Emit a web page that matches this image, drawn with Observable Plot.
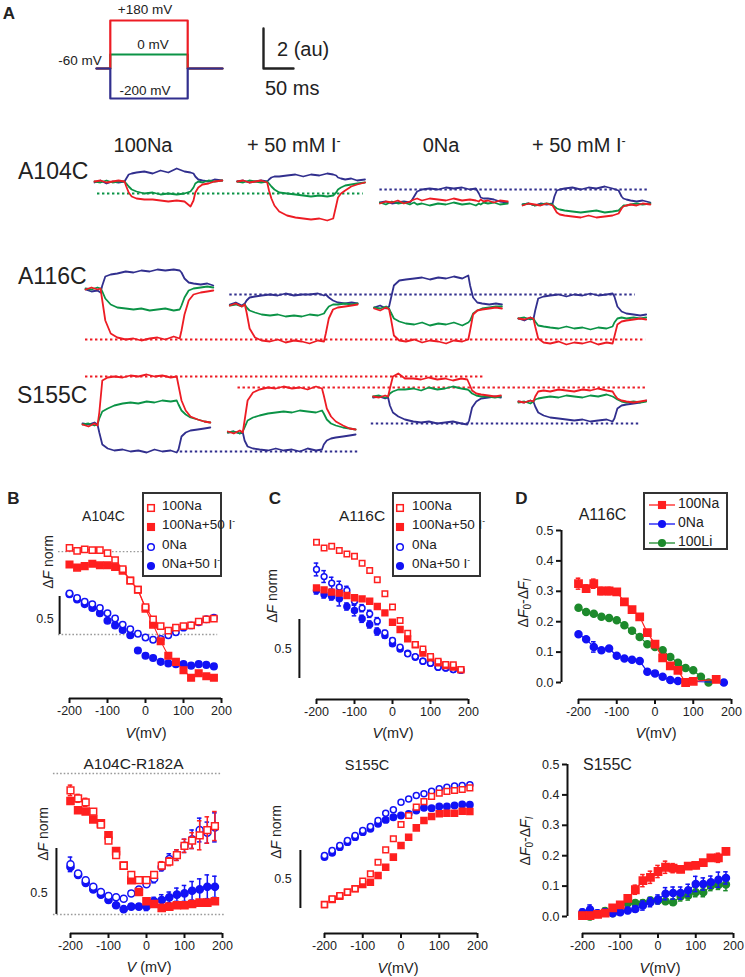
<!DOCTYPE html>
<html>
<head>
<meta charset="utf-8">
<script src="https://cdn.jsdelivr.net/npm/d3@7"></script>
<script src="https://cdn.jsdelivr.net/npm/@observablehq/plot@0.6"></script>
<style>
html,body{margin:0;padding:0;background:#fff;}
#fig{position:relative;width:745px;height:977px;overflow:hidden;background:#fff;font-family:'Liberation Sans',Arial,Helvetica,sans-serif;color:#222;}
#fig > svg{position:absolute;left:0;top:0;}
.t{position:absolute;white-space:nowrap;line-height:1;}
.box{position:absolute;box-sizing:border-box;border:2px solid #333;background:#fff;}
.sm{font-size:0.62em;position:relative;top:-0.55em;}
sub{font-size:0.72em;vertical-align:-0.25em;line-height:0;}
</style>
</head>
<body>
<div id="fig"></div>
<script>
// ---------------- DATA ----------------
// Panel A: voltage protocol (ms, mV)
const protoTime = [0, 23, 23, 152, 152, 210];
const protoRed = [-60, -60, 180, 180, -60, -60];
const protoGreen = [-60, -60, 0, 0, -60, -60];
const protoBlue = [-60, -60, -200, -200, -60, -60];
const scaleBarAu = 2, scaleBarMs = 50;

// Panel A: fluorescence traces (au) sampled at these times (ms)
const tA = [0,10,20,30,40,50,53,57,62,70,83,97,110,123,137,150,160,165,168,173,180,190,200,213];
const tB = [0,10,20,25,28,33,42,53,67,80,93,107,120,133,147,157,160,165,172,180,192,203,213];
const columns = ["100Na", "+ 50 mM I-", "0Na", "+ 50 mM I-"];

const a104_Na_blue   = [-0.05,0.05,-0.1,0,-0.05,0,0.15,0.35,0.4,0.45,0.5,0.4,0.55,0.45,0.65,0.5,0.45,0.4,0.25,0.1,0.05,0,0.1,0.05];
const a104_Na_green  = [0,-0.05,0.05,-0.05,0,0,-0.1,-0.25,-0.4,-0.5,-0.6,-0.55,-0.65,-0.6,-0.65,-0.6,-0.5,-0.3,-0.1,0,-0.05,0.05,0,0.05];
const a104_Na_red    = [0,0.05,-0.05,0,0.05,0,-0.25,-0.55,-0.75,-0.85,-0.9,-0.9,-0.95,-1.0,-0.95,-1.0,-1.25,-0.95,-0.55,-0.3,-0.15,-0.1,0,0.05];
const a104_NaI_blue  = [0,0.05,-0.05,0,0.05,0,0.1,0.2,0.25,0.25,0.3,0.35,0.25,0.35,0.3,0.4,0.35,0.3,0.2,0.15,0.1,0.15,0.05,0.1];
const a104_NaI_green = [0,-0.05,0.05,0,-0.05,0,-0.1,-0.25,-0.4,-0.55,-0.6,-0.65,-0.7,-0.75,-0.7,-0.75,-0.7,-0.55,-0.4,-0.3,-0.2,-0.15,-0.1,-0.05];
const a104_NaI_red   = [0,0.05,-0.05,0,0.05,-0.05,-0.45,-0.85,-1.2,-1.5,-1.7,-1.8,-1.85,-1.9,-1.85,-1.95,-1.85,-1.2,-0.8,-0.6,-0.45,-0.25,-0.15,-0.05];
const a104_0Na_blue  = [-1.05,-1.0,-1.1,-1.05,-1.0,-1.05,-0.95,-0.75,-0.5,-0.4,-0.35,-0.4,-0.3,-0.35,-0.3,-0.4,-0.35,-0.6,-0.8,-0.85,-0.85,-0.9,-1.0,-1.05];
const a104_0Na_green = [-1.05,-1.15,-1.0,-1.1,-1.05,-1.15,-1.1,-1.05,-1.15,-1.1,-1.2,-1.1,-1.15,-1.05,-1.15,-1.1,-1.2,-1.1,-1.15,-1.05,-1.1,-1.05,-1.15,-1.1];
const a104_0Na_red   = [-1.1,-1.0,-1.05,-0.95,-1.1,-1.0,-0.95,-0.9,-0.85,-0.95,-0.85,-0.9,-0.95,-0.85,-0.95,-0.9,-0.95,-1.0,-0.9,-1.0,-0.95,-1.05,-0.95,-1.0];
const a104_0NaI_blue = [-1.15,-1.1,-1.2,-1.1,-1.15,-1.1,-0.75,-0.45,-0.4,-0.35,-0.3,-0.4,-0.3,-0.35,-0.25,-0.35,-0.45,-0.75,-0.85,-0.9,-0.95,-1.0,-0.95,-1.05];
const a104_0NaI_green= [-1.15,-1.1,-1.2,-1.15,-1.1,-1.15,-1.25,-1.35,-1.4,-1.45,-1.5,-1.55,-1.5,-1.45,-1.55,-1.5,-1.45,-1.3,-1.2,-1.2,-1.15,-1.1,-1.15,-1.1];
const a104_0NaI_red  = [-1.2,-1.1,-1.15,-1.2,-1.1,-1.2,-1.35,-1.55,-1.65,-1.7,-1.75,-1.8,-1.7,-1.8,-1.75,-1.7,-1.6,-1.35,-1.25,-1.2,-1.15,-1.2,-1.1,-1.15];

const a116_Na_blue   = [-0.05,-0.15,-0.1,-0.2,0.15,0.6,0.7,0.75,0.85,0.8,0.9,0.85,0.95,0.9,0.95,0.9,0.8,0.5,0.3,0.25,0.2,0.25,0.15];
const a116_Na_green  = [0,-0.05,0.05,0,-0.15,-0.5,-0.8,-0.95,-1.0,-1.05,-1.0,-1.1,-1.05,-1.0,-1.1,-1.05,-0.85,-0.45,-0.1,0,0.05,0.1,0.05];
const a116_Na_red    = [-0.05,0.05,-0.05,0,-0.6,-1.6,-2.25,-2.45,-2.55,-2.5,-2.6,-2.5,-2.45,-2.55,-2.4,-2.5,-2.1,-1.3,-0.6,-0.3,-0.2,-0.15,-0.1];
const a116_NaI_blue  = [-0.8,-0.7,-0.85,-0.75,-0.6,-0.45,-0.4,-0.35,-0.3,-0.35,-0.25,-0.35,-0.3,-0.3,-0.25,-0.35,-0.3,-0.45,-0.6,-0.7,-0.75,-0.7,-0.75];
const a116_NaI_green = [-0.85,-0.8,-0.9,-0.8,-0.95,-1.1,-1.2,-1.3,-1.35,-1.3,-1.4,-1.35,-1.4,-1.3,-1.35,-1.25,-1.1,-0.9,-0.8,-0.8,-0.75,-0.8,-0.75];
const a116_NaI_red   = [-0.85,-0.75,-0.9,-0.8,-1.2,-2.0,-2.45,-2.6,-2.65,-2.55,-2.7,-2.6,-2.65,-2.75,-2.6,-2.65,-2.25,-1.5,-1.05,-0.95,-0.9,-0.85,-0.8];
const a116_0Na_blue  = [-0.95,-0.85,-1.0,-0.9,-0.5,0.15,0.4,0.45,0.5,0.55,0.45,0.55,0.5,0.6,0.5,0.65,0.15,-0.45,-0.7,-0.75,-0.8,-0.75,-0.8];
const a116_0Na_green = [-0.95,-1.0,-0.9,-1.0,-1.2,-1.5,-1.65,-1.75,-1.8,-1.7,-1.85,-1.75,-1.8,-1.7,-1.85,-1.7,-1.6,-1.25,-1.1,-1.0,-0.95,-0.9,-0.9];
const a116_0Na_red   = [-1.0,-1.1,-0.95,-1.05,-1.5,-2.35,-2.6,-2.65,-2.55,-2.7,-2.6,-2.65,-2.75,-2.6,-2.65,-2.55,-2.1,-1.3,-1.1,-1.05,-1.0,-0.95,-1.0];
const a116_0NaI_blue = [-1.5,-1.6,-1.45,-1.55,-1.1,-0.5,-0.4,-0.35,-0.3,-0.4,-0.3,-0.35,-0.25,-0.35,-0.3,-0.25,-0.4,-0.9,-1.15,-1.25,-1.3,-1.35,-1.3];
const a116_0NaI_green= [-1.5,-1.45,-1.55,-1.5,-1.65,-1.85,-1.9,-1.95,-2.0,-1.9,-2.0,-1.95,-2.05,-1.95,-2.0,-1.9,-1.7,-1.5,-1.45,-1.5,-1.45,-1.5,-1.45];
const a116_0NaI_red  = [-1.5,-1.55,-1.45,-1.5,-1.9,-2.5,-2.7,-2.75,-2.65,-2.8,-2.7,-2.75,-2.65,-2.8,-2.7,-2.75,-2.4,-1.8,-1.65,-1.6,-1.55,-1.5,-1.55];

const s155_Na_blue   = [0.05,0,0.1,0,-0.4,-1.0,-1.2,-1.3,-1.25,-1.35,-1.3,-1.4,-1.25,-1.35,-1.3,-1.4,-1.25,-0.6,-0.4,-0.3,-0.25,-0.2,-0.15];
const s155_Na_green  = [0,0.05,-0.05,0,0.3,0.65,0.8,0.95,1.05,1.1,1.05,1.15,1.1,1.2,1.15,1.2,1.0,0.7,0.5,0.35,0.25,0.15,0.1];
const s155_Na_red    = [0,-0.1,0.05,-0.05,0.6,2.2,2.35,2.4,2.35,2.45,2.4,2.5,2.4,2.45,2.35,2.4,1.95,1.2,0.7,0.4,0.25,0.15,0.1];
const s155_NaI_blue  = [-0.4,-0.35,-0.45,-0.4,-0.8,-1.1,-1.2,-1.25,-1.3,-1.2,-1.3,-1.25,-1.35,-1.2,-1.3,-1.25,-1.0,-0.8,-0.7,-0.65,-0.6,-0.55,-0.5];
const s155_NaI_green = [-0.4,-0.35,-0.45,-0.35,-0.15,0.2,0.35,0.45,0.55,0.6,0.65,0.6,0.7,0.65,0.6,0.7,0.55,0.25,0.05,-0.05,-0.15,-0.2,-0.25];
const s155_NaI_red   = [-0.35,-0.45,-0.3,-0.4,0.2,1.2,1.6,1.75,1.85,1.8,1.9,1.8,1.85,1.75,1.9,1.8,1.45,0.8,0.4,0.15,-0.05,-0.2,-0.25];
const s155_0Na_blue  = [1.35,1.4,1.3,1.35,0.95,0.6,0.4,0.25,0.15,0.1,0.15,0.05,0.1,0.15,0.05,0,0.2,0.85,1.15,1.3,1.35,1.4,1.35];
const s155_0Na_green = [1.4,1.45,1.35,1.4,1.55,1.65,1.75,1.75,1.8,1.7,1.85,1.75,1.8,1.9,1.8,1.75,1.7,1.55,1.45,1.4,1.4,1.35,1.4];
const s155_0Na_red   = [1.4,1.35,1.45,1.4,1.8,2.4,2.55,2.3,2.3,2.25,2.35,2.25,2.3,2.2,2.3,2.25,2.05,1.7,1.55,1.5,1.45,1.4,1.45];
const s155_0NaI_blue = [1.15,1.1,1.2,1.15,0.9,0.6,0.45,0.35,0.3,0.25,0.2,0.25,0.15,0.2,0.25,0.15,0.3,0.8,0.95,1.0,1.05,1.1,1.2];
const s155_0NaI_green= [1.1,1.15,1.05,1.15,1.25,1.3,1.35,1.4,1.35,1.45,1.4,1.35,1.45,1.4,1.5,1.4,1.35,1.25,1.15,1.1,1.15,1.1,1.15];
const s155_0NaI_red  = [1.15,1.1,1.2,1.15,1.4,1.65,1.7,1.65,1.75,1.7,1.65,1.75,1.7,1.8,1.7,1.65,1.5,1.3,1.2,1.15,1.1,1.15,1.2];

// reference (dotted) levels: level in au, from column c1 time t1 to column c2 time t2
const a104_dots = [{color:"green", level:-0.6, c1:0, t1:5, c2:1, t2:210}, {color:"blue", level:-0.4, c1:2, t1:0, c2:3, t2:210}];
const a116_dots = [{color:"red", level:-2.55, c1:0, t1:0, c2:3, t2:212}, {color:"blue", level:-0.3, c1:1, t1:0, c2:3, t2:195}];
const s155_dots = [{color:"red", level:2.4, c1:0, t1:5, c2:2, t2:183}, {color:"red", level:1.85, c1:1, t1:17, c2:3, t2:212},
                   {color:"blue", level:-1.35, c1:0, t1:163, c2:1, t2:217}, {color:"blue", level:0.05, c1:2, t1:-3, c2:3, t2:203}];

// Panels B-D: voltage (mV)
const V = [-200,-180,-160,-140,-120,-100,-80,-60,-40,-20,0,20,40,60,80,100,120,140,160,180];
const xTicks = [-200,-100,0,100,200];
const dYTicks = [0,0.1,0.2,0.3,0.4,0.5];

// B top: A104C (ΔF norm)
const bA104_Na   = [1.14,1.10,1.12,1.11,1.11,1.07,0.98,0.86,0.71,0.59,0.36,0.20,0.11,0.05,0.09,0.11,0.12,0.17,0.20,0.21];
const bA104_NaI  = [0.92,0.88,0.90,0.93,0.91,0.91,0.89,0.84,0.71,0.59,0.34,0.13,-0.09,-0.28,-0.36,-0.47,-0.57,-0.51,-0.55,-0.57];
const bA104_0Na  = [0.54,0.48,0.43,0.40,0.35,0.28,0.21,0.13,0.07,0.01,-0.04,-0.07,-0.06,-0.01,0.03,0.09,0.12,0.16,0.20,0.22];
const bA104_0NaI = [0.53,0.46,0.40,0.35,0.28,0.18,0.12,0.06,-0.01,-0.21,-0.28,-0.31,-0.36,-0.38,-0.39,-0.39,-0.41,-0.39,-0.40,-0.42];
const bA104_refLevels = [0, 1.09];

// B bottom: A104C-R182A
const bR182_Na   = [0.94,0.88,0.85,0.78,0.68,0.56,0.45,0.37,0.30,0.26,0.26,0.30,0.37,0.40,0.45,0.52,0.56,0.60,0.64,0.67];
const bR182_NaI  = [0.86,0.79,0.78,0.72,0.69,0.60,0.48,0.37,0.26,0.17,0.10,0.08,0.05,0.06,0.07,0.07,0.08,0.09,0.09,0.10];
const bR182_0Na  = [0.38,0.31,0.26,0.21,0.17,0.14,0.13,0.12,0.16,0.19,0.23,0.27,0.36,0.42,0.45,0.52,0.57,0.64,0.62,0.66];
const bR182_0NaI = [0.36,0.30,0.24,0.19,0.15,0.11,0.07,0.04,0.06,0.06,0.06,0.10,0.11,0.13,0.15,0.16,0.18,0.19,0.21,0.21];
const bR182_Na_err   = [0.04,0.03,0.03,0.02,0.02,0.02,0.02,0.02,0.02,0.02,0.02,0.02,0.03,0.03,0.04,0.05,0.06,0.11,0.10,0.11];
const bR182_NaI_err  = [0.02,0.02,0.02,0.02,0.02,0.02,0.02,0.02,0.02,0.02,0.02,0.02,0.02,0.02,0.02,0.02,0.02,0.02,0.02,0.02];
const bR182_0Na_err  = [0.055,0.02,0.02,0.02,0.02,0.02,0.02,0.02,0.02,0.02,0.02,0.03,0.03,0.04,0.04,0.05,0.07,0.09,0.08,0.11];
const bR182_0NaI_err = [0.02,0.02,0.02,0.02,0.02,0.02,0.02,0.02,0.02,0.02,0.03,0.03,0.04,0.04,0.05,0.06,0.07,0.08,0.09,0.08];
const bR182_refLevels = [0, 1.068];

// C top: A116C
const cA116_Na   = [1.155,1.105,1.12,1.085,1.055,1.035,0.977,0.915,0.836,0.718,0.605,0.492,0.384,0.288,0.251,0.186,0.147,0.119,0.116,0.076];
const cA116_NaI  = [0.768,0.751,0.732,0.723,0.703,0.684,0.675,0.655,0.610,0.556,0.477,0.415,0.336,0.285,0.215,0.175,0.133,0.110,0.096,0.073];
const cA116_0Na  = [0.924,0.864,0.808,0.774,0.746,0.655,0.596,0.548,0.486,0.387,0.322,0.266,0.209,0.186,0.147,0.130,0.096,0.090,0.076,0.070];
const cA116_0NaI = [0.746,0.712,0.695,0.675,0.610,0.576,0.506,0.458,0.398,0.364,0.294,0.251,0.215,0.181,0.147,0.130,0.096,0.090,0.076,0.070];
const cA116_0Na_err  = [0.054,0.05,0.05,0.05,0.035,0.03,0.03,0.03,0.03,0.02,0.02,0.015,0.015,0.015,0.01,0.01,0.01,0.01,0.01,0.01];
const cA116_0NaI_err = [0.03,0.03,0.03,0.06,0.03,0.045,0.03,0.03,0.03,0.02,0.02,0.015,0.015,0.01,0.01,0.01,0.01,0.01,0.01,0.01];

// C bottom: S155C
const cS155_Na   = [0.034,0.083,0.112,0.141,0.170,0.236,0.299,0.399,0.506,0.601,0.724,0.802,0.874,0.922,0.966,0.994,1.009,1.017,1.026,1.04];
const cS155_NaI  = [0.034,0.078,0.106,0.141,0.170,0.207,0.227,0.284,0.356,0.443,0.543,0.615,0.695,0.759,0.793,0.816,0.822,0.822,0.839,0.836];
const cS155_0Na  = [0.457,0.500,0.543,0.586,0.629,0.672,0.707,0.759,0.822,0.851,0.917,0.945,0.974,0.989,1.011,1.032,1.046,1.055,1.06,1.066];
const cS155_0NaI = [0.443,0.48,0.529,0.572,0.615,0.658,0.687,0.730,0.764,0.787,0.802,0.816,0.845,0.868,0.865,0.879,0.879,0.888,0.897,0.894];

// D top: A116C (ΔF0-ΔFI)
const dA116_Na_V   = [-200,-180,-160,-140,-120,-100,-80,-60,-40,-20,0,20,40,60,80,100,160];
const dA116_Na     = [0.325,0.309,0.325,0.301,0.301,0.298,0.265,0.24,0.216,0.164,0.126,0.081,0.055,0.04,0.0,0.004,0.01];
const dA116_Na_err = [0.018,0.012,0.015,0.012,0.012,0.01,0.008,0.008,0.008,0.008,0.006,0.006,0.006,0.006,0.006,0.006,0.006];
const dA116_0Na_V  = [-200,-180,-160,-140,-120,-100,-80,-60,-40,-20,0,20,40,60,180];
const dA116_0Na    = [0.159,0.142,0.117,0.106,0.112,0.088,0.079,0.075,0.071,0.035,0.03,0.019,0.008,0.005,0.0];
const dA116_0Na_err= [0.006,0.006,0.017,0.008,0.006,0.005,0.005,0.005,0.005,0.005,0.004,0.004,0.004,0.004,0.004];
const dA116_Li_V   = [-200,-180,-160,-140,-120,-100,-80,-60,-40,-20,0,20,40,60,80,100,120,140];
const dA116_Li     = [0.246,0.232,0.226,0.216,0.212,0.205,0.188,0.17,0.15,0.126,0.117,0.106,0.084,0.065,0.048,0.04,0.019,0.0];

// D bottom: S155C
const dS155_Na     = [0.003,0.003,0.007,0.011,0.028,0.038,0.06,0.088,0.118,0.129,0.148,0.162,0.159,0.155,0.166,0.168,0.177,0.193,0.193,0.214];
const dS155_0Na    = [0.014,0.023,0.011,0.014,0.011,0.014,0.02,0.025,0.036,0.047,0.056,0.075,0.077,0.077,0.086,0.107,0.107,0.113,0.121,0.127];
const dS155_Li     = [0.003,0,0.009,0.018,0.011,0.031,0.044,0.044,0.044,0.053,0.053,0.05,0.047,0.066,0.069,0.08,0.08,0.1,0.104,0.105];
const dS155_Na_err = [0.01,0.01,0.01,0.01,0.01,0.01,0.01,0.015,0.02,0.02,0.02,0.02,0.015,0.01,0.01,0.01,0.01,0.01,0.015,0.01];
const dS155_0Na_err= [0.01,0.015,0.01,0.01,0.01,0.01,0.01,0.01,0.015,0.015,0.015,0.02,0.02,0.02,0.02,0.025,0.02,0.02,0.025,0.02];
const dS155_Li_err = [0.01,0.01,0.01,0.01,0.01,0.01,0.01,0.01,0.01,0.01,0.01,0.01,0.01,0.015,0.015,0.015,0.015,0.015,0.015,0.02];

// ---------------- DRAWING ----------------
const W = 745, H = 977;
const fig = document.getElementById("fig");
const FONT = "'Liberation Sans', Arial, Helvetica, sans-serif";
const STYLE = `background:transparent;font-family:${FONT};font-size:12.5px;color:#222;overflow:visible;`;
const TRACE = {blue: "#312f8e", green: "#0b9346", red: "#ed1c24"};
const PRED = "#ff1f1f", PBLUE = "#1212f5", PGREEN = "#1d8a2c";
const PX_PER_MS = 0.6, PX_PER_AU = 20;

function add(svg) { fig.appendChild(svg); }

// Protocol
add(Plot.plot({
  width: W, height: H, style: STYLE,
  x: {domain: [0, 1], range: [96, 96 + PX_PER_MS], axis: null, label: null},
  y: {type: "linear", domain: [-200, -60, 0, 180], range: [98, 68, 54, 20], axis: null, label: null},
  marks: [
    Plot.line(protoTime.map((t, i) => ({t, v: protoGreen[i]})), {x: "t", y: "v", stroke: TRACE.green, strokeWidth: 2.2}),
    Plot.line(protoTime.map((t, i) => ({t, v: protoRed[i]})), {x: "t", y: "v", stroke: TRACE.red, strokeWidth: 2.2}),
    Plot.line(protoTime.map((t, i) => ({t, v: protoBlue[i]})), {x: "t", y: "v", stroke: TRACE.blue, strokeWidth: 2.2})
  ]
}));

// Scale bar
add(Plot.plot({
  width: W, height: H, style: STYLE,
  x: {domain: [0, 1], range: [263, 263 + PX_PER_MS], axis: null, label: null},
  y: {domain: [0, 1], range: [68, 68 - PX_PER_AU], axis: null, label: null},
  marks: [Plot.line([{t: 0, v: scaleBarAu}, {t: 0, v: 0}, {t: scaleBarMs, v: 0}], {x: "t", y: "v", stroke: "#222", strokeWidth: 2.4})]
}));

// Trace rows
const traceRows = [
  {t: tA, x0: 94, step: 142.7, zero: 181, dots: a104_dots,
   cells: [[a104_Na_blue, a104_Na_green, a104_Na_red], [a104_NaI_blue, a104_NaI_green, a104_NaI_red],
           [a104_0Na_blue, a104_0Na_green, a104_0Na_red], [a104_0NaI_blue, a104_0NaI_green, a104_0NaI_red]]},
  {t: tB, x0: 85, step: 144.3, zero: 288, dots: a116_dots,
   cells: [[a116_Na_blue, a116_Na_green, a116_Na_red], [a116_NaI_blue, a116_NaI_green, a116_NaI_red],
           [a116_0Na_blue, a116_0Na_green, a116_0Na_red], [a116_0NaI_blue, a116_0NaI_green, a116_0NaI_red]]},
  {t: tB, x0: 82, step: 145.3, zero: 424, dots: s155_dots,
   cells: [[s155_Na_blue, s155_Na_green, s155_Na_red], [s155_NaI_blue, s155_NaI_green, s155_NaI_red],
           [s155_0Na_blue, s155_0Na_green, s155_0Na_red], [s155_0NaI_blue, s155_0NaI_green, s155_0NaI_red]]}
];
const kinds = ["blue", "green", "red"];
for (const row of traceRows) {
  const period = row.step / PX_PER_MS;
  const pts = [];
  row.cells.forEach((cell, col) => kinds.forEach((k, j) => cell[j].forEach((v, i) => pts.push({col, k, t: row.t[i], v}))));
  const X = d => d.col * period + d.t;
  add(Plot.plot({
    width: W, height: H, style: STYLE,
    x: {domain: [0, 1], range: [row.x0, row.x0 + PX_PER_MS], axis: null, label: null},
    y: {domain: [0, 1], range: [row.zero, row.zero - PX_PER_AU], axis: null, label: null},
    color: {type: "identity"},
    marks: [
      Plot.ruleY(row.dots, {y: "level", x1: d => d.c1 * period + d.t1, x2: d => d.c2 * period + d.t2,
        stroke: d => TRACE[d.color], strokeWidth: 2.2, strokeDasharray: "2.4,2.6"}),
      ...kinds.map(k => Plot.line(pts.filter(d => d.k === k), {x: X, y: "v", z: "col", stroke: TRACE[k], strokeWidth: 1.8, strokeLinejoin: "round"}))
    ]
  }));
}

// Scatter panels
function ser(xs, ys, errs) { return xs.map((x, i) => ({x, y: ys[i], e: errs ? errs[i] : 0})); }
function errMarks(data, color, capHalf) {
  return [
    Plot.ruleX(data, {x: "x", y1: d => d.y - d.e, y2: d => d.y + d.e, stroke: color, strokeWidth: 1.5}),
    Plot.ruleY(data, {y: d => d.y + d.e, x1: d => d.x - capHalf, x2: d => d.x + capHalf, stroke: color, strokeWidth: 1.5}),
    Plot.ruleY(data, {y: d => d.y - d.e, x1: d => d.x - capHalf, x2: d => d.x + capHalf, stroke: color, strokeWidth: 1.5})
  ];
}
function dots(data, color, shape, filled, r) {
  return Plot.dot(data, {x: "x", y: "y", symbol: shape, r, fill: filled ? color : "white", stroke: color, strokeWidth: 1.5});
}
function panel(p) {
  const ppmv = (p.xR - p.xL) / 400;
  const xmin = -200 - (p.xL - p.frameLeft) / ppmv;
  const ymin = (p.zero - p.axis) / p.ppu, ymax = (p.zero - p.top) / p.ppu;
  const marks = [
    Plot.ruleY([ymin], {x1: -200, x2: 200, stroke: "#111", strokeWidth: 2}),
    Plot.axisX({ticks: xTicks, tickSize: 5, tickPadding: 3, tickFormat: d => String(d), strokeWidth: 2, stroke: "#111", label: null})
  ];
  if (p.yaxis) {
    marks.push(Plot.ruleX([xmin], {y1: 0, y2: 0.5, stroke: "#111", strokeWidth: 2}));
    marks.push(Plot.axisY({ticks: dYTicks, tickSize: 5, tickPadding: 3, tickFormat: d => d.toFixed(1), strokeWidth: 2, stroke: "#111", label: null}));
  }
  if (p.bar != null) marks.push(Plot.ruleX([p.bar], {y1: 0, y2: 0.5, stroke: "#111", strokeWidth: 2}));
  add(Plot.plot({
    width: W, height: H, style: STYLE,
    marginLeft: p.frameLeft, marginRight: W - p.xR, marginTop: p.top, marginBottom: H - p.axis,
    x: {domain: [xmin, 200], label: null},
    y: {domain: [ymin, ymax], axis: p.yaxis ? undefined : null, label: null},
    marks: [...marks, ...p.marks(xmin)]
  }));
}

// B top
panel({xL: 69, xR: 221, frameLeft: 69, axis: 698, zero: 634, ppu: 76, top: 540, bar: -226,
  marks: () => {
    const na = ser(V, bA104_Na), nai = ser(V, bA104_NaI), o = ser(V, bA104_0Na), oi = ser(V, bA104_0NaI);
    return [
      Plot.ruleY([bA104_refLevels[1]], {x1: -229, x2: 200, stroke: "#9a9a9a", strokeWidth: 1.3, strokeDasharray: "1.6,2"}),
      Plot.ruleY([bA104_refLevels[0]], {x1: -229, x2: 190, stroke: "#9a9a9a", strokeWidth: 1.3, strokeDasharray: "1.6,2"}),
      dots(oi, PBLUE, "circle", true, 3.3),
      dots(o, PBLUE, "circle", false, 3.2),
      Plot.line(nai, {x: "x", y: "y", stroke: PRED, strokeWidth: 1.1}),
      dots(nai, PRED, "square", true, 3.7),
      Plot.line(na, {x: "x", y: "y", stroke: PRED, strokeWidth: 1.1}),
      dots(na, PRED, "square", false, 3.5)
    ];
  }});

// B bottom
panel({xL: 70, xR: 222, frameLeft: 70, axis: 933, zero: 914, ppu: 132, top: 760, bar: -237,
  marks: () => {
    const na = ser(V, bR182_Na, bR182_Na_err), nai = ser(V, bR182_NaI, bR182_NaI_err),
          o = ser(V, bR182_0Na, bR182_0Na_err), oi = ser(V, bR182_0NaI, bR182_0NaI_err);
    return [
      Plot.ruleY([bR182_refLevels[1]], {x1: -245, x2: 195, stroke: "#9a9a9a", strokeWidth: 1.3, strokeDasharray: "1.6,2"}),
      Plot.ruleY([bR182_refLevels[0]], {x1: -245, x2: 208, stroke: "#9a9a9a", strokeWidth: 1.3, strokeDasharray: "1.6,2"}),
      ...errMarks(oi, PBLUE, 6), dots(oi, PBLUE, "circle", true, 3.6),
      ...errMarks(o, PBLUE, 6), dots(o, PBLUE, "circle", false, 3.5),
      ...errMarks(nai, PRED, 6), dots(nai, PRED, "square", true, 4),
      ...errMarks(na, PRED, 6), dots(na, PRED, "square", false, 3.8)
    ];
  }});

// C top
panel({xL: 316, xR: 468, frameLeft: 316, axis: 699, zero: 678, ppu: 118, top: 540, bar: -245,
  marks: () => {
    const na = ser(V, cA116_Na), nai = ser(V, cA116_NaI),
          o = ser(V, cA116_0Na, cA116_0Na_err), oi = ser(V, cA116_0NaI, cA116_0NaI_err);
    return [
      ...errMarks(oi, PBLUE, 6), dots(oi, PBLUE, "circle", true, 3),
      ...errMarks(o, PBLUE, 6), dots(o, PBLUE, "circle", false, 2.9),
      dots(nai, PRED, "square", true, 3.3),
      dots(na, PRED, "square", false, 3.1)
    ];
  }});

// C bottom
panel({xL: 324, xR: 477, frameLeft: 324, axis: 933, zero: 908, ppu: 116, top: 760, bar: -263,
  marks: () => {
    const na = ser(V, cS155_Na), nai = ser(V, cS155_NaI), o = ser(V, cS155_0Na), oi = ser(V, cS155_0NaI);
    return [
      dots(oi, PBLUE, "circle", true, 3.2),
      dots(o, PBLUE, "circle", false, 3),
      dots(nai, PRED, "square", true, 3.4),
      dots(na, PRED, "square", false, 3.2)
    ];
  }});

// D top
panel({xL: 578, xR: 731, frameLeft: 561, axis: 699, zero: 682, ppu: 304, top: 520, yaxis: true,
  marks: () => {
    const na = ser(dA116_Na_V, dA116_Na, dA116_Na_err), o = ser(dA116_0Na_V, dA116_0Na, dA116_0Na_err), li = ser(dA116_Li_V, dA116_Li);
    return [
      Plot.line(li, {x: "x", y: "y", stroke: PGREEN, strokeWidth: 1.2}), dots(li, PGREEN, "circle", true, 3.5),
      Plot.line(o, {x: "x", y: "y", stroke: PBLUE, strokeWidth: 1.2}), ...errMarks(o, PBLUE, 6), dots(o, PBLUE, "circle", true, 3.5),
      Plot.line(na, {x: "x", y: "y", stroke: PRED, strokeWidth: 1.2}), ...errMarks(na, PRED, 6), dots(na, PRED, "square", true, 4.1)
    ];
  }});

// D bottom
panel({xL: 582, xR: 733, frameLeft: 567, axis: 933, zero: 916, ppu: 304, top: 755, yaxis: true,
  marks: () => {
    const na = ser(V, dS155_Na, dS155_Na_err), o = ser(V, dS155_0Na, dS155_0Na_err), li = ser(V, dS155_Li, dS155_Li_err);
    return [
      Plot.line(li, {x: "x", y: "y", stroke: PGREEN, strokeWidth: 1.2}), ...errMarks(li, PGREEN, 6), dots(li, PGREEN, "circle", true, 3.5),
      Plot.line(o, {x: "x", y: "y", stroke: PBLUE, strokeWidth: 1.2}), ...errMarks(o, PBLUE, 6), dots(o, PBLUE, "circle", true, 3.5),
      Plot.line(na, {x: "x", y: "y", stroke: PRED, strokeWidth: 1.2}), ...errMarks(na, PRED, 6), dots(na, PRED, "square", true, 4.1)
    ];
  }});

// ---------------- TEXT / LEGENDS ----------------
function label(html, x, y, o = {}) {
  const d = document.createElement("div");
  d.className = "t";
  d.innerHTML = html;
  d.style.left = x + "px"; d.style.top = y + "px";
  d.style.fontSize = (o.size || 13) + "px";
  if (o.bold) d.style.fontWeight = "bold";
  if (o.color) d.style.color = o.color;
  const tx = o.anchor === "start" ? "0" : o.anchor === "end" ? "-100%" : "-50%";
  d.style.transform = `translate(${tx},-50%)` + (o.rotate ? ` rotate(${o.rotate}deg)` : "");
  fig.appendChild(d);
}
function box(x, y, w, h, bw) {
  const d = document.createElement("div");
  d.className = "box";
  Object.assign(d.style, {left: x + "px", top: y + "px", width: w + "px", height: h + "px", borderWidth: (bw || 2) + "px"});
  fig.appendChild(d);
}
function glyph(cx, cy, shape, color, filled, withLine) {
  const w = withLine ? 26 : 12, h = 12, c = w / 2, m = h / 2;
  const fill = filled ? color : "#fff";
  let inner = withLine ? `<line x1="0" y1="${m}" x2="${w}" y2="${m}" stroke="${color}" stroke-width="1.3"/>` : "";
  inner += shape === "square"
    ? `<rect x="${c - 3.3}" y="${m - 3.3}" width="6.6" height="6.6" fill="${fill}" stroke="${color}" stroke-width="1.5"/>`
    : `<circle cx="${c}" cy="${m}" r="3.3" fill="${fill}" stroke="${color}" stroke-width="1.5"/>`;
  const d = document.createElement("div");
  d.style.cssText = `position:absolute;left:${cx - c}px;top:${cy - m}px;width:${w}px;height:${h}px;`;
  d.innerHTML = `<svg width="${w}" height="${h}">${inner}</svg>`;
  fig.appendChild(d);
}
const IMINUS = "I<span class='sm'>-</span>";

// Panel A
label("A", 9, 12.5, {bold: true, size: 17, anchor: "middle"});
label("+180 mV", 145, 9.5, {size: 13.5});
label("0 mV", 153, 45, {size: 13.5});
label("-60 mV", 80, 60.5, {size: 13.5});
label("-200 mV", 145, 90.5, {size: 13.5});
label("2 (au)", 277, 48.5, {size: 20, anchor: "start"});
label("50 ms", 265, 87.5, {size: 20, anchor: "start"});
label(columns[0], 143, 145, {size: 20});
label("+ 50 mM " + IMINUS, 247, 145, {size: 20, anchor: "start"});
label(columns[2], 441, 145, {size: 20});
label("+ 50 mM " + IMINUS, 532, 145, {size: 20, anchor: "start"});
label("A104C", 18, 171, {size: 23, anchor: "start"});
label("A116C", 18, 276, {size: 23, anchor: "start"});
label("S155C", 17, 395, {size: 23, anchor: "start"});

// Panel letters
label("B", 13.5, 497.5, {bold: true, size: 17});
label("C", 275, 497.5, {bold: true, size: 17});
label("D", 521.5, 497.5, {bold: true, size: 17});

// Titles
label("A104C", 103.5, 515.5, {size: 14});
label("A104C-R182A", 133.5, 763.5, {size: 15.5});
label("A116C", 362, 515.5, {size: 15.5});
label("S155C", 367, 764.5, {size: 14.5});
label("A116C", 602.5, 514.5, {size: 16});
label("S155C", 583, 764.5, {size: 16, anchor: "start"});

// Axis labels
const dfn = "Δ<i>F</i> norm";
label(dfn, 48, 562, {size: 14, rotate: -90});
label(dfn, 43, 834, {size: 14, rotate: -90});
label(dfn, 272, 596, {size: 14, rotate: -90});
label(dfn, 276, 832, {size: 14, rotate: -90});
const dfd = "Δ<i>F</i><sub>0</sub>-Δ<i>F</i><sub><i>I</i></sub>";
label(dfd, 523, 603, {size: 14, rotate: -90});
label(dfd, 525, 841, {size: 14, rotate: -90});
label("0.5", 45, 619, {size: 12.5});
label("0.5", 39, 893, {size: 12.5});
label("0.5", 283, 649, {size: 12.5});
label("0.5", 283, 879, {size: 12.5});
label("<i>V</i>(mV)", 146, 733, {size: 14.5});
label("<i>V</i>(mV)", 393, 733, {size: 14.5});
label("<i>V</i>(mV)", 656, 733, {size: 14.5});
label("<i>V</i> (mV)", 149, 967, {size: 14.5});
label("<i>V</i>(mV)", 398, 968, {size: 14.5});
label("<i>V</i>(mV)", 660, 968, {size: 14.5});

// Legends B and C
const legRows = [506, 525, 544.5, 564];
const legNames = ["100Na", "100Na+50 " + IMINUS, "0Na", "0Na+50 " + IMINUS];
const legStyle = [["square", PRED, false], ["square", PRED, true], ["circle", PBLUE, false], ["circle", PBLUE, true]];
[[142, 151, 162], [392, 400, 412]].forEach(([bx, gx, tx]) => {
  box(bx, 492, bx === 142 ? 80 : 89, 85, 2.2);
  legRows.forEach((y, i) => {
    glyph(gx, y, legStyle[i][0], legStyle[i][1], legStyle[i][2], false);
    label(legNames[i], tx, y, {size: 13.5, anchor: "start"});
  });
});
// Legend D
box(643, 492, 85, 58, 2.6);
[["100Na", "square", PRED, 502.5], ["0Na", "circle", PBLUE, 522], ["100Li", "circle", PGREEN, 541]].forEach(([n, s, c, y]) => {
  glyph(662, y, s, c, true, true);
  label(n, 678, y, {size: 14, anchor: "start"});
});
</script>
</body>
</html>
